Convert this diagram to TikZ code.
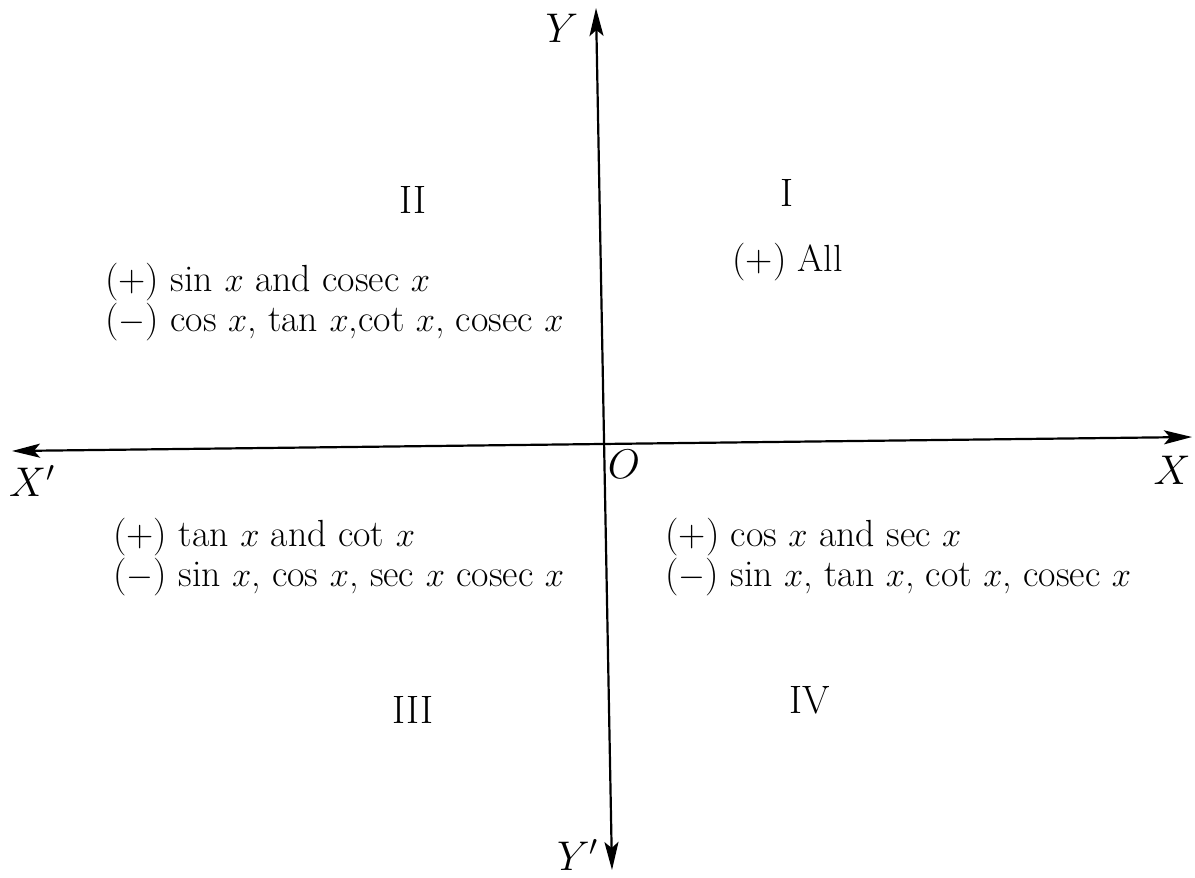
\documentclass[tikz,border=0pt]{standalone}
\usetikzlibrary{arrows.meta}
\usetikzlibrary{positioning}

\begin{document}
\begin{tikzpicture}[x=0.5pt, y=-0.5pt, line join=round,
    axis/.style={line width=1.1pt, {Stealth[length=14pt, width=7pt, inset=3pt]}-{Stealth[length=14pt, width=7pt, inset=3pt]}},
    lbl/.style={font=\fontsize{19.8}{20}\selectfont, inner sep=0pt},
    signs/.style={lbl, font=\fontsize{18.9}{20}\selectfont, align=left, anchor=west}]
          \useasboundingbox (0,0) rectangle (1195,878);
          % axes
          \coordinate (xneg) at (12,451);
          \coordinate (xpos) at (1192,437);
          \coordinate (ypos) at (596,8);
          \coordinate (yneg) at (612,870);
          \draw[axis] (xneg) -- (xpos);
          \draw[axis] (yneg) -- (ypos);
          % axis names
          \node[lbl] (Y) at (562,28) {$Y$};
          \node[lbl] (Yp) at (578,855) {$Y'$};
          \node[lbl] (Xp) at (32,481) {$X'$};
          \node[lbl] (X) at (1172,470) {$X$};
          \node[lbl] (O) at (624,464) {$O$};
          % quadrants
          \node[lbl] (qI) at (787,193) {I};
          \node[lbl] (qII) at (413,200) {II};
          \node[lbl] (qIII) at (413,710) {III};
          \node[lbl] (qIV) at (810,700) {IV};
          \node[signs] (sI) at (732,262) {(+) All};
          \node[signs] (sII) at (105,302) {(+) sin $x$ and cosec $x$\\
            ($-$) cos $x$, tan $x$,cot $x$, cosec $x$};
          \node[signs] (sIII) at (113,557) {(+) tan $x$ and cot $x$\\
            ($-$) sin $x$, cos $x$, sec $x$ cosec $x$};
          \node[signs] (sIV) at (665,557) {(+) cos $x$ and sec $x$\\
            ($-$) sin $x$, tan $x$, cot $x$, cosec $x$};
        \end{tikzpicture}
\end{document}
